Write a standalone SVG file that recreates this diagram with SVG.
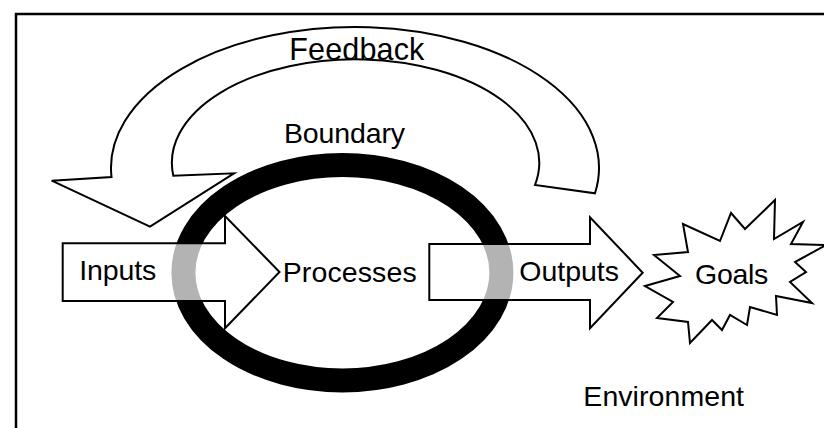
<svg xmlns="http://www.w3.org/2000/svg" width="824" height="428" viewBox="0 0 824 428">
<style>
  .txt { font-family: "Liberation Sans", Arial, sans-serif; font-size: 28.5px; fill: #000; }
  .outline { fill: #fff; stroke: #000; stroke-width: 2; stroke-linejoin: miter; }
  .block { fill: #fff; fill-opacity: 0.7; stroke: #000; stroke-width: 2; stroke-linejoin: miter; }
</style>
<rect x="0" y="0" width="824" height="428" fill="#fff"/>
<g id="frame">
  <path d="M16,428 V14 H824" fill="none" stroke="#000" stroke-width="2.5"/>
</g>
<g id="boundary">
  <ellipse cx="342.4" cy="272.7" rx="159" ry="107.7" fill="none" stroke="#000" stroke-width="24"/>
  <text class="txt" x="284" y="143" textLength="121">Boundary</text>
</g>
<g id="connectors">
  <g id="feedback">
    <path class="outline" d="M51.7,180.7 L111.5,177 A244,141 0 1 1 595,193.3 L535,185 A183.7,103.5 0 1 0 173.3,175.7 L234,173.3 L150,226.7 Z"/>
    <text class="txt" x="289.3" y="60" style="font-size:30.5px" textLength="135">Feedback</text>
  </g>
  <g id="inputs">
    <polygon class="block" points="62.7,243.3 225,243.3 225,216 279.5,272 225,328.3 225,301 62.7,301"/>
    <text class="txt" x="79.3" y="280" textLength="77">Inputs</text>
  </g>
  <g id="outputs">
    <polygon class="block" points="429.3,244 590,244 590,217.3 642.7,272.7 590,328.3 590,300 429.3,300"/>
    <text class="txt" x="519.3" y="280.7" textLength="99.7">Outputs</text>
  </g>
</g>
<g id="processes">
  <text class="txt" x="282.7" y="281.7" textLength="134">Processes</text>
</g>
<g id="goals">
  <polygon class="outline" points="645,286 680,276 654,255 688,252 683,224 720,241 731,213 745,229 775,200 774,239 803,222 791,244 826,245 795,262 806,272 790,282 812,303 776,296 777,315 750,307 747,325 730,315 722,330 712,320 690,343 688,322 657,318 673,302"/>
  <text class="txt" x="695" y="284" textLength="73.3">Goals</text>
</g>
<g id="environment">
  <text class="txt" x="583.3" y="406" textLength="160.7">Environment</text>
</g>
</svg>
